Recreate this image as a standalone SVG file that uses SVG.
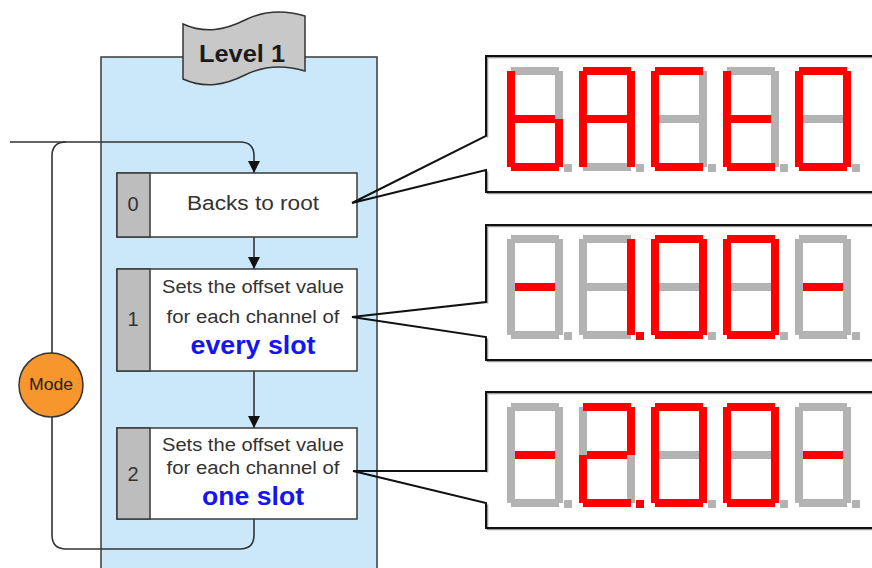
<svg xmlns="http://www.w3.org/2000/svg" xmlns:xlink="http://www.w3.org/1999/xlink" width="872" height="568" viewBox="0 0 872 568">
  <style>
    text { font-family: "Liberation Sans", Arial, sans-serif; }
    .panel { fill: #cbe8fa; stroke: #3a3a3a; stroke-width: 1.5; }
    .box { fill: #ffffff; stroke: #3a3a3a; stroke-width: 1.5; }
    .tab { fill: #bdbdbd; stroke: #3a3a3a; stroke-width: 1.5; }
    .num { font-size: 20px; fill: #333; text-anchor: middle; }
    .lbl { font-size: 18px; fill: #333; text-anchor: middle; }
    .big { font-size: 25px; font-weight: bold; fill: #1414f5; text-anchor: middle; }
    .wire { fill: none; stroke: #333; stroke-width: 1.6; }
    .call { fill: none; stroke: #111; stroke-width: 2; }
    .callsh { fill: none; stroke: #9a9a9a; stroke-width: 1.5; }
    .on { fill: #ff0000; }
    .off { fill: #b3b3b3; }
  </style>
  <defs>
    <marker id="arrow" viewBox="0 0 12 12" refX="12" refY="6" markerWidth="12" markerHeight="12" markerUnits="userSpaceOnUse" orient="auto">
      <path d="M0,0 L12,6 L0,12 Z" fill="#111"/>
    </marker>
    <!-- seven-segment pieces, origin at the top-left of a digit -->
    <rect id="sa" x="4" y="0" width="48" height="8"/>
    <rect id="sb" x="48" y="4" width="8" height="48"/>
    <rect id="sc" x="48" y="52" width="8" height="48"/>
    <rect id="sd" x="4" y="96" width="48" height="8"/>
    <rect id="se" x="0" y="52" width="8" height="48"/>
    <rect id="sf" x="0" y="4" width="8" height="48"/>
    <rect id="sg" x="8" y="48" width="40" height="8"/>
    <rect id="sp" x="57" y="97" width="8" height="8"/>
    <g id="digit">
      <use href="#sa"/><use href="#sb"/><use href="#sc"/><use href="#sd"/>
      <use href="#se"/><use href="#sf"/><use href="#sg"/><use href="#sp"/>
    </g>
  </defs>

  <!-- level panel -->
  <rect class="panel" x="101" y="57" width="276" height="530"/>

  <!-- level banner -->
  <g id="banner">
    <path d="M183,24 C205,34 225,30 245,20 C265,10 285,10 305,16 L305,71 C285,65 265,65 245,75 C225,85 205,89 183,79 Z" fill="#c8c8c8" stroke="#333" stroke-width="1.5"/>
    <text x="242" y="62" font-size="23" font-weight="bold" fill="#1a1a1a" text-anchor="middle" textLength="86" lengthAdjust="spacingAndGlyphs">Level 1</text>
  </g>

  <!-- connectors -->
  <g id="connectors">
    <path class="wire" d="M10,142 H240 Q254,142 254,156 V173" marker-end="url(#arrow)"/>
    <path class="wire" d="M254,519 V535 Q254,549 240,549 H66 Q52,549 52,535 V156 Q52,142 66,142"/>
    <path class="wire" d="M254,237 V269" marker-end="url(#arrow)"/>
    <path class="wire" d="M254,371 V428" marker-end="url(#arrow)"/>
  </g>

  <!-- mode node -->
  <g id="mode">
    <circle cx="51" cy="385" r="32" fill="#f7962c" stroke="#333" stroke-width="1.5"/>
    <text x="51" y="390" font-size="16" fill="#222" text-anchor="middle" textLength="44" lengthAdjust="spacingAndGlyphs">Mode</text>
  </g>

  <!-- step 0 -->
  <g id="step0">
    <rect class="box" x="117" y="173" width="240" height="64"/>
    <rect class="tab" x="117" y="173" width="33" height="64"/>
    <text class="num" x="133" y="211">0</text>
    <text x="253" y="210" font-size="20" fill="#333" text-anchor="middle" textLength="132" lengthAdjust="spacingAndGlyphs">Backs to root</text>
  </g>

  <!-- step 1 -->
  <g id="step1">
    <rect class="box" x="117" y="269" width="240" height="102"/>
    <rect class="tab" x="117" y="269" width="33" height="102"/>
    <text class="num" x="133" y="326">1</text>
    <text class="lbl" x="253" y="293" textLength="182" lengthAdjust="spacingAndGlyphs">Sets the offset value</text>
    <text class="lbl" x="253" y="323" textLength="173" lengthAdjust="spacingAndGlyphs">for each channel of</text>
    <text class="big" x="253" y="354" textLength="125" lengthAdjust="spacingAndGlyphs">every slot</text>
  </g>

  <!-- step 2 -->
  <g id="step2">
    <rect class="box" x="117" y="428" width="240" height="91"/>
    <rect class="tab" x="117" y="428" width="33" height="91"/>
    <text class="num" x="133" y="481">2</text>
    <text class="lbl" x="253" y="451" textLength="182" lengthAdjust="spacingAndGlyphs">Sets the offset value</text>
    <text class="lbl" x="253" y="474" textLength="173" lengthAdjust="spacingAndGlyphs">for each channel of</text>
    <text class="big" x="253" y="505" textLength="102" lengthAdjust="spacingAndGlyphs">one slot</text>
  </g>

  <!-- display callout for step 0 -->
  <g id="display0">
    <rect x="486" y="56" width="400" height="136" fill="#fff"/>
    <path class="callsh" d="M880,57.5 H487.5 V137.5 M487.5,171.5 V193.5 H880" />
    <path class="call" d="M880,56 H486 V136 L352,203 L486,170 V192 H880"/>
    <g transform="translate(507,67)"><use href="#digit" class="off"/><use href="#sf" class="on"/><use href="#se" class="on"/><use href="#sg" class="on"/><use href="#sc" class="on"/><use href="#sd" class="on"/></g>
    <g transform="translate(579,67)"><use href="#digit" class="off"/><use href="#sa" class="on"/><use href="#sb" class="on"/><use href="#sc" class="on"/><use href="#se" class="on"/><use href="#sf" class="on"/><use href="#sg" class="on"/></g>
    <g transform="translate(651,67)"><use href="#digit" class="off"/><use href="#sa" class="on"/><use href="#sf" class="on"/><use href="#se" class="on"/><use href="#sd" class="on"/></g>
    <g transform="translate(723,67)"><use href="#digit" class="off"/><use href="#sf" class="on"/><use href="#se" class="on"/><use href="#sg" class="on"/><use href="#sd" class="on"/></g>
    <g transform="translate(795,67)"><use href="#digit" class="off"/><use href="#sa" class="on"/><use href="#sb" class="on"/><use href="#sc" class="on"/><use href="#sd" class="on"/><use href="#se" class="on"/><use href="#sf" class="on"/></g>
  </g>

  <!-- display callout for step 1 -->
  <g id="display1">
    <rect x="486" y="225" width="400" height="135" fill="#fff"/>
    <path class="callsh" d="M880,226.5 H487.5 V303.5 M487.5,338.5 V361.5 H880" />
    <path class="call" d="M880,225 H486 V302 L352,317 L486,337 V360 H880"/>
    <g transform="translate(507,235)"><use href="#digit" class="off"/><use href="#sg" class="on"/></g>
    <g transform="translate(579,235)"><use href="#digit" class="off"/><use href="#sb" class="on"/><use href="#sc" class="on"/><use href="#sp" class="on"/></g>
    <g transform="translate(651,235)"><use href="#digit" class="off"/><use href="#sa" class="on"/><use href="#sb" class="on"/><use href="#sc" class="on"/><use href="#sd" class="on"/><use href="#se" class="on"/><use href="#sf" class="on"/></g>
    <g transform="translate(723,235)"><use href="#digit" class="off"/><use href="#sa" class="on"/><use href="#sb" class="on"/><use href="#sc" class="on"/><use href="#sd" class="on"/><use href="#se" class="on"/><use href="#sf" class="on"/></g>
    <g transform="translate(795,235)"><use href="#digit" class="off"/><use href="#sg" class="on"/></g>
  </g>

  <!-- display callout for step 2 -->
  <g id="display2">
    <rect x="486" y="392" width="400" height="136" fill="#fff"/>
    <path class="callsh" d="M880,393.5 H487.5 V472.5 M487.5,504.5 V529.5 H880" />
    <path class="call" d="M880,392 H486 V471 L353,471 L486,503 V528 H880"/>
    <g transform="translate(507,403)"><use href="#digit" class="off"/><use href="#sg" class="on"/></g>
    <g transform="translate(579,403)"><use href="#digit" class="off"/><use href="#sa" class="on"/><use href="#sb" class="on"/><use href="#sg" class="on"/><use href="#se" class="on"/><use href="#sd" class="on"/><use href="#sp" class="on"/></g>
    <g transform="translate(651,403)"><use href="#digit" class="off"/><use href="#sa" class="on"/><use href="#sb" class="on"/><use href="#sc" class="on"/><use href="#sd" class="on"/><use href="#se" class="on"/><use href="#sf" class="on"/></g>
    <g transform="translate(723,403)"><use href="#digit" class="off"/><use href="#sa" class="on"/><use href="#sb" class="on"/><use href="#sc" class="on"/><use href="#sd" class="on"/><use href="#se" class="on"/><use href="#sf" class="on"/></g>
    <g transform="translate(795,403)"><use href="#digit" class="off"/><use href="#sg" class="on"/></g>
  </g>
</svg>
